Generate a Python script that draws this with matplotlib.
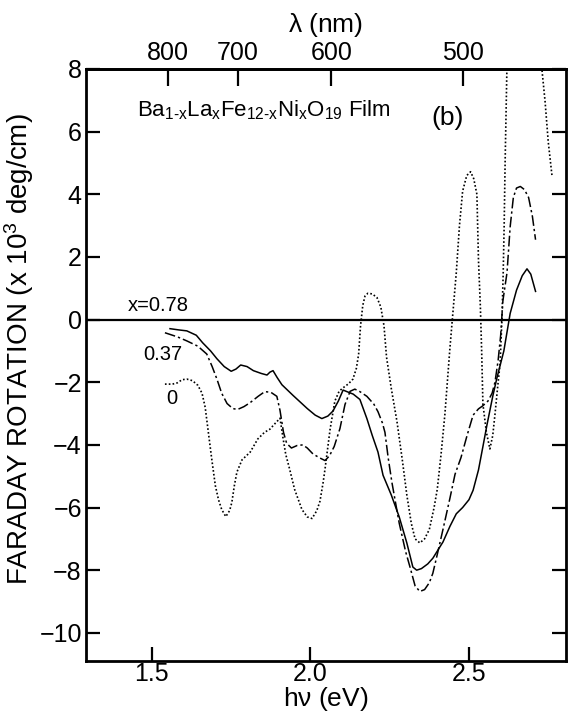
import numpy as np
import matplotlib
matplotlib.use("Agg")
import matplotlib.pyplot as plt

plt.rcParams['font.family'] = ['Liberation Sans', 'DejaVu Sans']
plt.rcParams['mathtext.fontset'] = 'custom'
plt.rcParams['mathtext.rm'] = 'Liberation Sans'
plt.rcParams['mathtext.it'] = 'Liberation Sans:italic'

# x = 0.78 (solid)
e_078 = [1.557, 1.585, 1.61, 1.64, 1.66, 1.685, 1.705, 1.728, 1.75, 1.765, 1.78, 1.80,
         1.82, 1.845, 1.863, 1.872, 1.882, 1.895, 1.91, 1.945, 1.99, 2.015, 2.036, 2.055,
         2.071, 2.088, 2.103, 2.115, 2.135, 2.156, 2.178, 2.195, 2.213, 2.229, 2.255, 2.28,
         2.304, 2.323, 2.335, 2.35, 2.37, 2.386, 2.418, 2.44, 2.46, 2.48, 2.50, 2.513,
         2.53, 2.545, 2.557, 2.575, 2.588, 2.61, 2.63, 2.65, 2.668, 2.683, 2.695, 2.71]
f_078 = [-0.29, -0.33, -0.36, -0.5, -0.74, -1.0, -1.25, -1.5, -1.65, -1.58, -1.45, -1.5,
         -1.63, -1.72, -1.77, -1.68, -1.63, -1.85, -2.08, -2.42, -2.84, -3.05, -3.16, -3.08,
         -2.92, -2.6, -2.25, -2.3, -2.38, -2.55, -3.16, -3.7, -4.23, -4.97, -5.6, -6.3,
         -7.13, -7.9, -8.0, -7.95, -7.8, -7.62, -7.1, -6.6, -6.2, -6.0, -5.75, -5.45,
         -4.8, -4.0, -3.35, -2.45, -1.87, -1.0, 0.2, 0.94, 1.4, 1.62, 1.45, 0.9]

# x = 0.37 (dash-dot)
e_037 = [1.541, 1.58, 1.61, 1.645, 1.673, 1.69, 1.705, 1.72, 1.737, 1.755, 1.77, 1.79,
         1.81, 1.835, 1.856, 1.875, 1.894, 1.904, 1.915, 1.925, 1.94, 1.958, 1.976, 1.99,
         2.008, 2.03, 2.046, 2.06, 2.075, 2.093, 2.109, 2.125, 2.14, 2.156, 2.178, 2.2,
         2.213, 2.227, 2.235, 2.245, 2.257, 2.28, 2.3, 2.314, 2.33, 2.345, 2.36, 2.375,
         2.386, 2.4, 2.418, 2.44, 2.456, 2.475, 2.494, 2.513, 2.53, 2.544, 2.56, 2.573,
         2.582, 2.592, 2.6, 2.607, 2.62, 2.63, 2.64, 2.65, 2.662, 2.675, 2.688, 2.70, 2.71]
f_037 = [-0.42, -0.55, -0.68, -0.85, -1.1, -1.5, -1.9, -2.35, -2.68, -2.84, -2.87, -2.78,
         -2.65, -2.45, -2.3, -2.32, -2.45, -2.9, -3.6, -3.95, -4.1, -4.02, -4.0, -4.1,
         -4.29, -4.42, -4.5, -4.35, -4.05, -3.48, -2.71, -2.29, -2.22, -2.3, -2.45, -2.7,
         -2.94, -3.3, -3.6, -4.4, -5.2, -6.5, -7.4, -7.9, -8.5, -8.68, -8.62, -8.4,
         -8.1, -7.5, -6.7, -5.7, -4.94, -4.4, -3.7, -3.05, -2.85, -2.75, -2.6, -2.35,
         -2.0, -1.3, -0.5, 0.6, 1.5, 2.97, 3.9, 4.2, 4.25, 4.15, 3.9, 3.3, 2.55]

# x = 0 (dotted); the peak above the frame is split off
e_000 = [1.541, 1.565, 1.58, 1.595, 1.61, 1.628, 1.645, 1.658, 1.668, 1.678, 1.688, 1.7,
         1.71, 1.72, 1.733, 1.745, 1.752, 1.76, 1.768, 1.784, 1.81, 1.834, 1.855, 1.872,
         1.89, 1.904, 1.913, 1.922, 1.935, 1.95, 1.973, 1.99, 2.005, 2.02, 2.03, 2.04,
         2.046, 2.062, 2.077, 2.09, 2.1, 2.12, 2.134, 2.145, 2.152, 2.158, 2.165, 2.172,
         2.181, 2.195, 2.21, 2.222, 2.232, 2.24, 2.255, 2.273, 2.29, 2.304, 2.318, 2.33,
         2.345, 2.36, 2.375, 2.39, 2.40, 2.412, 2.424, 2.44, 2.45, 2.46, 2.47, 2.48,
         2.493, 2.505, 2.515, 2.525, 2.53, 2.536, 2.54, 2.544, 2.555, 2.566, 2.575, 2.582,
         2.59, 2.598, 2.604, 2.608, 2.611, 2.614, 2.62, np.nan, 2.728, 2.74, 2.75, 2.762]
f_000 = [-2.06, -2.06, -2.02, -1.92, -1.9, -1.95, -2.1, -2.35, -2.8, -3.6, -4.4, -5.3,
         -5.75, -6.06, -6.29, -6.1, -5.84, -5.3, -4.87, -4.48, -4.23, -3.81, -3.6, -3.5,
         -3.3, -3.15, -3.75, -4.3, -4.8, -5.42, -6.06, -6.3, -6.35, -6.1, -5.8, -5.2,
         -4.77, -3.5, -2.6, -2.3, -2.2, -2.05, -1.9, -1.55, -1.1, -0.2, 0.45, 0.75,
         0.84, 0.82, 0.7, 0.4, -0.2, -1.2, -2.2, -3.26, -4.5, -5.6, -6.5, -7.0,
         -7.13, -7.0, -6.7, -6.0, -5.42, -4.3, -3.03, -0.9, 0.3, 1.5, 3.0, 4.1,
         4.6, 4.72, 4.5, 4.0, 1.9, 0.4, -1.0, -2.7, -3.6, -4.13, -3.7, -3.03,
         -2.2, -1.42, 0.0, 1.5, 3.0, 5.0, 8.2, np.nan, 8.2, 6.97, 5.68, 4.58]

curve_labels = ["x=0.78", "0.37", "0"]
label_e = [1.519, 1.535, 1.563]
label_f = [0.45, -1.1, -2.52]

lam_ticks = [800, 700, 600, 500]
HC = 1239.84

fig = plt.figure(figsize=(5.69, 7.21), dpi=100)
ax = fig.add_axes([0.1511, 0.0832, 0.8436, 0.8211])

ax.axhline(0, color='black', lw=1.6)
ax.plot(e_078, f_078, color='black', lw=1.1, ls='-')
ax.plot(e_037, f_037, color='black', lw=1.1, ls=(0, (7, 2, 1.5, 2)))
ax.plot(e_000, f_000, color='black', lw=1.2, ls=(0, (1, 1.3)))

for t, xx, yy in zip(curve_labels, label_e, label_f):
    ax.text(xx, yy, t, fontsize=14.5, ha='center', va='center')

ax.text(1.453, 6.7, "Ba$_{\\mathregular{1\u2010x}}$La$_{\\mathregular{x}}$Fe$_{\\mathregular{12\u2010x}}$"
        "Ni$_{\\mathregular{x}}$O$_{\\mathregular{19}}$ Film",
        fontsize=16, ha='left', va='center')
ax.text(2.434, 6.45, "(b)", fontsize=19, ha='center', va='center')

ax.set_xlim(1.292, 2.806)
ax.set_ylim(-10.9, 8)
ax.set_xticks([1.5, 2.0, 2.5])
ax.set_xticklabels(["1.5", "2.0", "2.5"])
ax.set_yticks(np.arange(-10, 9, 2))
ax.set_yticklabels([str(v).replace('-', '\u2212') for v in range(-10, 9, 2)])
ax.tick_params(axis='both', direction='in', length=10, width=1.6, labelsize=18, pad=3)
ax.tick_params(axis='x', pad=1)
ax.tick_params(axis='y', right=True)
for s in ax.spines.values():
    s.set_linewidth(2)

top = ax.secondary_xaxis('top', functions=(lambda e: HC / e, lambda l: HC / l))
top.set_xticks(lam_ticks)
top.set_xticklabels([str(v) for v in lam_ticks])
top.tick_params(direction='in', length=12, width=1.6, labelsize=18, pad=3)
top.spines['top'].set_linewidth(2)
top.set_xlabel(r"$\mathregular{\lambda}$ (nm)", fontsize=19, labelpad=6)

ax.set_xlabel(r"h$\mathregular{\nu}$ (eV)", fontsize=19, labelpad=-1)
ax.set_ylabel(r"FARADAY ROTATION (x 10$^{\mathregular{3}}$ deg/cm)", fontsize=20)
ax.yaxis.set_label_coords(-0.105, 0.527)

fig.savefig("out.png", dpi=100)
